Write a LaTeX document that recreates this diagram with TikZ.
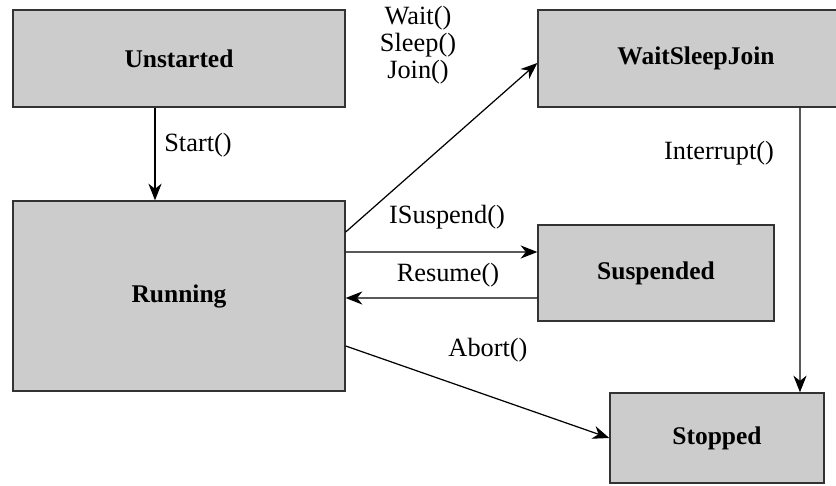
\documentclass[tikz,border=0pt]{standalone}
\usepackage{fontspec}
\setmainfont{Liberation Serif}
\usetikzlibrary{arrows.meta}

\begin{document}
\begin{tikzpicture}[x=0.02cm, y=-0.02cm,
    state/.style={rectangle, draw=black!80, line width=0.8pt, fill=black!20, inner sep=0pt, font=\fontsize{14.5}{16}\selectfont\bfseries},
    trans/.style={-{Stealth[length=9.5pt, width=7.5pt, inset=3pt]}, line width=0.7pt},
    lbl/.style={font=\fontsize{15}{15.4}\selectfont, inner sep=0pt, align=center}]
    \useasboundingbox (0,0) rectangle (836,486);

    % Draw nodes
    \node[state, minimum width=6.64cm, minimum height=1.94cm] (unstarted) at (179,58.5) {Unstarted};
    \node[state, minimum width=6.64cm, minimum height=3.8cm] (running) at (179,296) {Running};
    \node[state, minimum width=6.32cm, minimum height=1.94cm] (waitsleepjoin) at (696,58.5) {WaitSleepJoin};
    \node[state, minimum width=4.72cm, minimum height=1.92cm] (suspended) at (656,273) {Suspended};
    \node[state, minimum width=4.28cm, minimum height=1.8cm] (stopped) at (717,438) {Stopped};

    % Draw connections
    \draw[trans] ([xshift=-0.48cm]unstarted.south) -- ([xshift=-0.48cm]running.north);
    \draw[trans] ([yshift=1.28cm]running.east) -- ([yshift=-0.09cm]waitsleepjoin.west);
    \draw[trans] ([yshift=0.88cm]running.east) -- ([yshift=0.42cm]suspended.west);
    \draw[trans] ([yshift=-0.5cm]suspended.west) -- ([yshift=-0.04cm]running.east);
    \draw[trans] ([yshift=-1.0cm]running.east) -- (stopped.west);
    \draw[trans] ([xshift=2.08cm]waitsleepjoin.south) -- ([xshift=1.66cm]stopped.north);

    % Labels
    \node[lbl] (startlbl) at (198,145) {Start()};
    \node[lbl] (waitlbl) at (418,45) {Wait()\\Sleep()\\Join()};
    \node[lbl] (isuspendlbl) at (447,217) {ISuspend()};
    \node[lbl] (resumelbl) at (448,275) {Resume()};
    \node[lbl] (abortlbl) at (488,350) {Abort()};
    \node[lbl] (interruptlbl) at (719,153) {Interrupt()};
\end{tikzpicture}
\end{document}
